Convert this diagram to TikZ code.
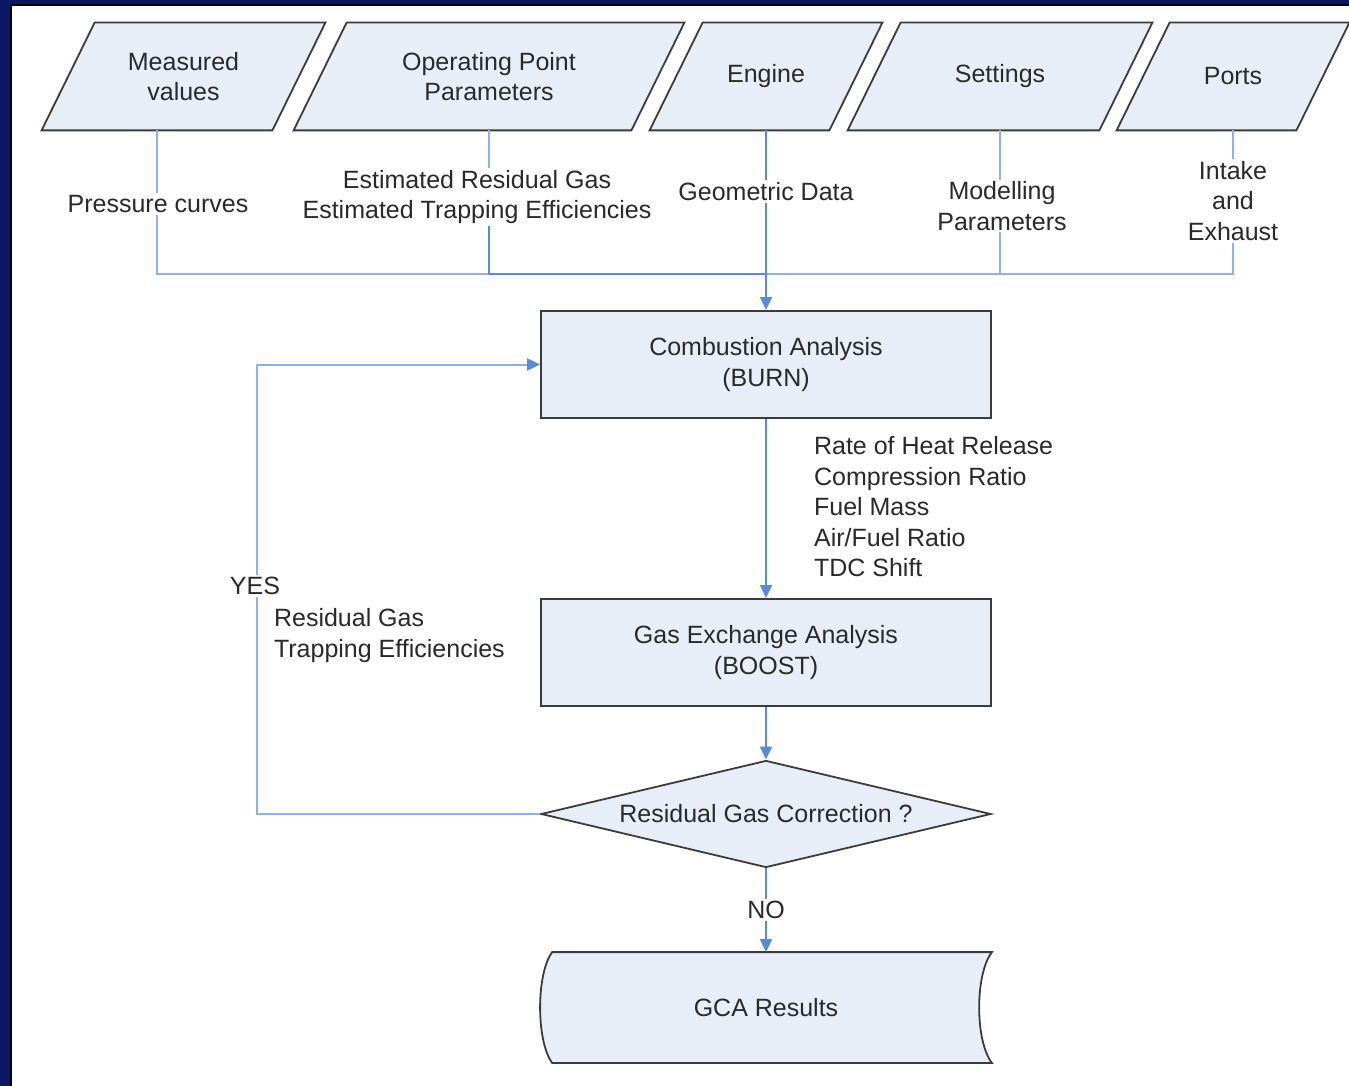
\documentclass[tikz,border=0pt]{standalone}
\usepackage{fontspec}
\setmainfont{Liberation Sans}
\usetikzlibrary{arrows.meta, shapes.geometric, positioning, calc}

\definecolor{framenavy}{HTML}{0B1866}
\definecolor{boxfill}{HTML}{E8EEF8}
\definecolor{boxline}{HTML}{3C3C3C}
\definecolor{flowblue}{HTML}{5A8CD6}
\definecolor{feedblue}{HTML}{8FB3E4}
\definecolor{textgray}{HTML}{2A2A2A}

\pgfdeclarelayer{back}
\pgfdeclarelayer{shapes}
\pgfsetlayers{back,shapes,main}

\tikzset{
  every node/.style={font=\fontsize{12.5}{15.25}\selectfont, text=textgray},
  % input data: text block, the slanted outline is drawn below it
  inputbox/.style={rectangle, minimum height=53.5pt, align=center, inner sep=0pt},
  outline/.style={draw=boxline, fill=boxfill, line width=0.9pt},
  procbox/.style={rectangle, outline, minimum width=225pt, minimum height=53.5pt, align=center},
  decision/.style={diamond, shape aspect=4.2, outline,
    minimum width=225pt, minimum height=53.5pt, inner sep=0pt},
  feed/.style={draw=feedblue, line width=1pt},
  flow/.style={draw=flowblue, line width=1pt, -{Triangle[length=6.5pt,width=6pt]}},
  lbl/.style={fill=white, align=center, inner sep=1pt},
}

\begin{document}
\begin{tikzpicture}[x=0.5pt, y=-0.5pt]
    \useasboundingbox (0,0) rectangle (1349,1086);
    % frame
    \begin{pgfonlayer}{back}
        \fill[framenavy] (0,0) rectangle (1349,1086);
        \fill[white] (11,5) rectangle (1349,1086);
        \draw[black, line width=1pt] (11,1086) -- (11,5) -- (1349,5);
    \end{pgfonlayer}

    % input data
    \node[inputbox, minimum width=115pt] (meas) at (183.5,76.5) {Measured\\values};
    \node[inputbox, minimum width=168.5pt] (oppt) at (489,76.5) {Operating Point\\Parameters};
    \node[inputbox, minimum width=89.5pt] (engine) at (766,76.5) {Engine};
    \node[inputbox, minimum width=125.5pt] (settings) at (1000,76.5) {Settings};
    \node[inputbox, minimum width=89.5pt] (ports) at (1233,76.5) {Ports};
    \begin{pgfonlayer}{shapes}
        \foreach \n in {meas,oppt,engine,settings,ports}
            \draw[outline] ([xshift=-13.25pt]\n.south west) -- ([xshift=-13.25pt]\n.south east)
                -- ([xshift=13.25pt]\n.north east) -- ([xshift=13.25pt]\n.north west) -- cycle;
    \end{pgfonlayer}

    % analysis chain
    \node[procbox] (burn) at (766,364.5) {Combustion Analysis\\(BURN)};
    \node[procbox] (boost) at (766,652.5) {Gas Exchange Analysis\\(BOOST)};
    \node[decision] (rgc) at (766,814) {Residual Gas Correction ?};
    \node[procbox, draw=none, fill=none, minimum height=54.5pt] (gca) at (766,1007.5) {GCA Results};
    \begin{pgfonlayer}{shapes}
        \draw[outline]
            ([xshift=6pt]gca.north west) -- (gca.north east)
            .. controls ($(gca.north east)+(-17,22)$) and ($(gca.south east)+(-17,-22)$) .. (gca.south east)
            -- ([xshift=6pt]gca.south west)
            .. controls ($(gca.south west)+(-4,-22)$) and ($(gca.north west)+(-4,22)$) .. ([xshift=6pt]gca.north west)
            -- cycle;
    \end{pgfonlayer}

    % feeds into BURN
    \coordinate (merge) at (766,274);
    \draw[feed] ([xshift=-13.25pt]meas.south) |- (merge);
    \draw[feed] (oppt.south) |- (merge);
    \draw[feed] (settings.south) |- (merge);
    \draw[feed] (ports.south) |- (merge);
    \node[lbl] (preslbl) at (158,204) {Pressure curves};
    \node[lbl] (oplbl) at (477,197) {Estimated Residual Gas\\Estimated Trapping Efficiencies};
    \node[lbl] (modlbl) at (1002,206) {Modelling\\Parameters};
    \node[lbl] (portlbl) at (1233,201) {Intake\\and\\Exhaust};
    \draw[feed, draw=flowblue] (oplbl.south -| oppt.south) |- (merge);
    \draw[flow] (engine.south) -- node[lbl, pos=0.34] (geolbl) {Geometric Data} (burn.north);

    % main chain
    \draw[flow] (burn) -- (boost);
    \node[anchor=west, align=left] (burnout) at (807,507)
        {Rate of Heat Release\\Compression Ratio\\Fuel Mass\\Air/Fuel Ratio\\TDC Shift};
    \draw[flow] (boost) -- (rgc);
    \draw[flow] (rgc.south) -- node[lbl] (nolbl) {NO} (gca.north);

    % correction loop
    \coordinate (loopx) at (257,814);
    \draw[feed, -{Triangle[length=6.5pt,width=6pt,color=flowblue]}] (rgc.west) -- (loopx) |- (burn.west);
    \node[lbl] (yeslbl) at (255,586) {YES};
    \node[anchor=west, align=left] (loopout) at (267,635.5) {Residual Gas\\Trapping Efficiencies};
\end{tikzpicture}
\end{document}
